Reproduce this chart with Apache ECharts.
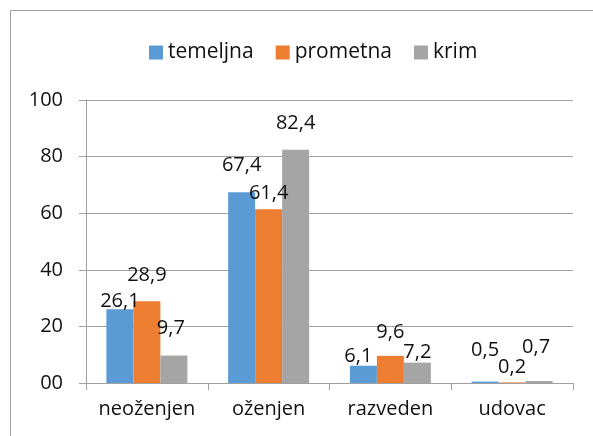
<!DOCTYPE html>
<html>
<head>
<meta charset="utf-8">
<script src="https://cdn.jsdelivr.net/npm/echarts@6/dist/echarts.min.js"></script>
<style>
  * { margin: 0; padding: 0; }
  html, body { background: #fff; }
  #main { width: 593px; height: 436px; }
</style>
</head>
<body>
<!-- container for the chart -->
<div id="main"></div>
<script>
  // data
  var categories = ['neoženjen', 'oženjen', 'razveden', 'udovac'];
  var seriesNames = ['temeljna', 'prometna', 'krim'];
  var temeljna = [26.1, 67.4, 6.1, 0.5];
  var prometna = [28.9, 61.4, 9.6, 0.2];
  var krim = [9.7, 82.4, 7.2, 0.7];
  var yTickLabels = ['00', '20', '40', '60', '80', '100'];

  // label nudges (like the hand placed labels in the original)
  var labelShift = [
    [[0, 2], [0, -17], [-5, 1], [0, -21]],
    [[0, -16], [0, -6], [0, -14], [0, -5]],
    [[-3, -17], [0, -17], [0, 0], [-3, -24]]
  ];
  var colors = ['#5B9BD5', '#ED7D31', '#A5A5A5'];
  var FONT = '"Open Sans", sans-serif';
  var gray = '#a0a0a0';

  function makeSeries(idx, values) {
    return {
      name: seriesNames[idx],
      type: 'bar',
      barWidth: 27,
      barGap: '0%',
      itemStyle: { color: colors[idx] },
      data: values.map(function (v, i) {
        return { value: v, label: { offset: labelShift[idx][i] } };
      }),
      label: {
        show: true,
        position: 'top',
        distance: 0,
        fontFamily: FONT,
        fontSize: 20,
        color: '#111',
        formatter: function (p) { return String(p.value).replace('.', ','); }
      }
    };
  }

  var chart = echarts.init(document.getElementById('main'));
  chart.setOption({
    animation: false,
    backgroundColor: '#fff',
    graphic: [{
      type: 'rect',
      shape: { x: 10.5, y: 10.5, width: 700, height: 600 },
      style: { fill: 'none', stroke: gray, lineWidth: 1 }
    }],
    legend: {
      data: seriesNames,
      left: 144,
      top: 37,
      itemWidth: 14,
      itemHeight: 14,
      itemGap: 22,
      icon: 'rect',
      textStyle: { fontFamily: FONT, fontSize: 21, color: '#111' }
    },
    grid: { left: 86, right: 20, top: 100, bottom: 53 },
    xAxis: {
      type: 'category',
      data: categories,
      axisLine: { lineStyle: { color: gray } },
      axisTick: { show: true, length: 7, lineStyle: { color: gray } },
      axisLabel: { interval: 0, fontFamily: FONT, fontSize: 20, color: '#111', margin: 16 }
    },
    yAxis: {
      type: 'value',
      min: 0,
      max: 100,
      interval: 20,
      axisLine: { show: true, lineStyle: { color: gray } },
      axisTick: { show: true, length: 7, lineStyle: { color: gray } },
      splitLine: { lineStyle: { color: gray } },
      axisLabel: {
        fontFamily: FONT, fontSize: 20, color: '#111', margin: 23,
        formatter: function (v) { return yTickLabels[v / 20]; }
      }
    },
    series: [
      makeSeries(0, temeljna),
      makeSeries(1, prometna),
      makeSeries(2, krim)
    ]
  });
</script>
</body>
</html>
